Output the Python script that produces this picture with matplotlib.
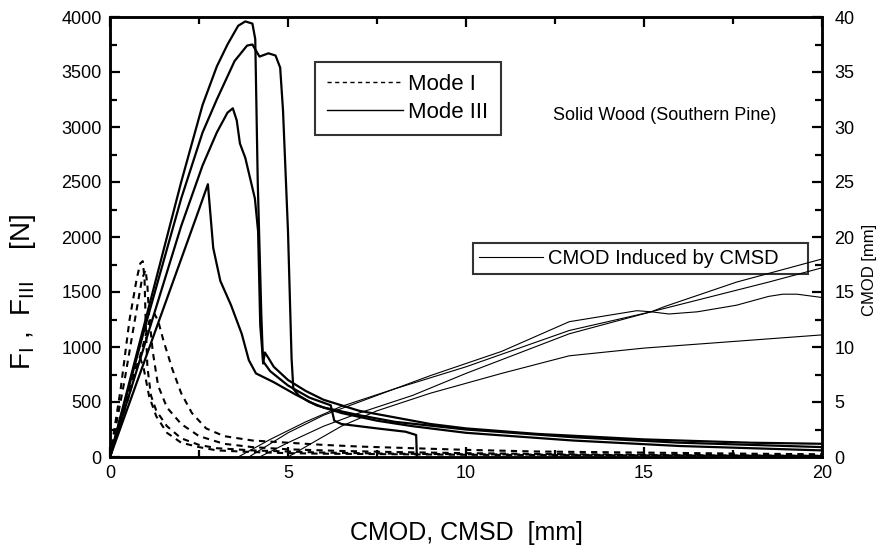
import matplotlib
matplotlib.use("Agg")
import matplotlib.pyplot as plt
from matplotlib.lines import Line2D

plt.rcParams['font.family'] = ['Liberation Sans', 'DejaVu Sans']

# ---------------- data ----------------
# Mode III (solid, left axis, N)
m3a_x = [0, 1.0, 2.0, 2.6, 3.0, 3.3, 3.6, 3.8, 4.0, 4.08, 4.15, 4.25, 4.3, 4.35, 4.45, 4.6, 5.0, 5.5, 6.0, 7.0, 8.0, 9.0, 10, 12, 15, 18, 20]
m3a_y = [0, 1250, 2500, 3200, 3550, 3750, 3920, 3960, 3940, 3800, 2500, 1300, 850, 950, 900, 820, 700, 600, 520, 420, 360, 300, 260, 210, 160, 130, 120]
m3b_x = [0, 1.0, 2.0, 2.6, 3.0, 3.5, 3.85, 4.0, 4.2, 4.45, 4.65, 4.78, 4.86, 5.0, 5.1, 5.15, 5.3, 5.6, 6.0, 7.0, 8.0, 10, 13, 16, 20]
m3b_y = [0, 1200, 2350, 2950, 3250, 3600, 3740, 3750, 3640, 3670, 3650, 3540, 3150, 2050, 900, 620, 560, 500, 450, 380, 320, 250, 180, 130, 90]
m3c_x = [0, 1.0, 2.0, 2.6, 3.0, 3.3, 3.45, 3.56, 3.65, 3.8, 4.07, 4.16, 4.22, 4.3, 4.5, 5.0, 5.6, 6.2, 6.3, 6.5, 7.5, 8.3, 8.6, 8.62]
m3c_y = [0, 1050, 2100, 2650, 2950, 3130, 3170, 3060, 2850, 2720, 2350, 2050, 1200, 870, 780, 650, 540, 470, 330, 300, 260, 230, 200, 0]
m3d_x = [0, 1.0, 2.0, 2.5, 2.75, 2.9, 3.1, 3.4, 3.7, 3.9, 4.1, 4.6, 5.2, 5.8, 6.5, 7.5, 8.5, 10, 13, 16, 20]
m3d_y = [0, 900, 1800, 2250, 2480, 1900, 1600, 1380, 1120, 880, 760, 680, 570, 470, 400, 330, 280, 220, 150, 100, 60]

# Mode I (dashed, left axis, N)
m1a_x = [0, 0.3, 0.55, 0.75, 0.85, 0.92, 0.97, 1.0, 1.05, 1.15, 1.3, 1.6, 2.0, 2.5, 3.0, 4, 5, 6, 8, 10, 13, 16, 20]
m1a_y = [0, 620, 1250, 1620, 1760, 1780, 1620, 1250, 820, 560, 420, 280, 170, 110, 80, 60, 50, 40, 30, 25, 20, 15, 10]
m1b_x = [0, 0.4, 0.7, 0.9, 1.0, 1.05, 1.1, 1.2, 1.35, 1.6, 2.0, 2.5, 3.2, 4, 5, 6.5, 8, 10, 13, 16, 20]
m1b_y = [0, 680, 1250, 1620, 1700, 1560, 1280, 960, 650, 450, 300, 190, 120, 90, 70, 55, 45, 35, 25, 20, 15]
m1c_x = [0, 0.5, 0.9, 1.1, 1.25, 1.35, 1.5, 1.75, 2.0, 2.3, 2.7, 3.2, 4.0, 5.0, 6.0, 7.0, 8.5, 10, 12, 15, 18, 20]
m1c_y = [0, 520, 980, 1230, 1300, 1240, 1060, 800, 580, 400, 260, 190, 150, 130, 110, 95, 80, 65, 50, 40, 30, 25]
m1d_x = [0, 0.4, 0.7, 0.85, 0.95, 1.1, 1.3, 1.6, 2.0, 2.5, 3.0, 4, 5, 6, 8, 10, 14, 20]
m1d_y = [0, 450, 800, 900, 800, 550, 370, 220, 130, 90, 60, 45, 35, 30, 25, 20, 15, 10]

# CMOD induced by CMSD (thin, right axis, mm)
c1_x = [3.6, 4.5, 5.5, 6.5, 8.0, 10.0, 12.9, 15.2, 15.6, 17.6, 20.0]
c1_y = [0.0, 1.6, 3.2, 4.6, 6.2, 8.2, 11.5, 13.2, 13.7, 15.9, 18.0]
c2_x = [4.2, 5.0, 6.0, 7.0, 8.5, 10.0, 12.9, 15.2, 18.5, 20.0]
c2_y = [0.0, 1.3, 2.8, 4.0, 5.6, 7.6, 11.2, 13.2, 15.9, 17.2]
c3_x = [3.9, 5.0, 6.0, 7.5, 9.0, 11.0, 12.9, 14.8, 15.2, 15.7, 16.5, 17.6, 18.5, 18.9, 19.3, 20.0]
c3_y = [0.0, 2.2, 3.8, 5.6, 7.4, 9.6, 12.3, 13.3, 13.2, 13.0, 13.2, 13.8, 14.6, 14.8, 14.8, 14.5]
c4_x = [5.0, 5.8, 6.5, 7.5, 9.0, 11.0, 12.9, 15.0, 17.5, 20.0]
c4_y = [0.0, 1.5, 2.8, 4.2, 5.8, 7.6, 9.2, 9.9, 10.5, 11.1]

y_ticks_left = [0, 500, 1000, 1500, 2000, 2500, 3000, 3500, 4000]
y_ticks_right = [0, 5, 10, 15, 20, 25, 30, 35, 40]
x_ticks = [0, 5, 10, 15, 20]

# ---------------- figure ----------------
fig = plt.figure(figsize=(8.82, 5.52), dpi=100)
ax = fig.add_axes([110/882, 1-457/552, (822-110)/882, (457-17)/552])
ax2 = ax.twinx()

for xs, ys in [(m3a_x, m3a_y), (m3b_x, m3b_y), (m3c_x, m3c_y), (m3d_x, m3d_y)]:
    ax.plot(xs, ys, color='black', lw=1.6, solid_joinstyle='round')
for xs, ys in [(m1a_x, m1a_y), (m1b_x, m1b_y), (m1c_x, m1c_y), (m1d_x, m1d_y)]:
    ax.plot(xs, ys, color='black', lw=1.5, ls=(0, (3, 2.5)))
for xs, ys in [(c1_x, c1_y), (c2_x, c2_y), (c3_x, c3_y), (c4_x, c4_y)]:
    ax2.plot(xs, ys, color='black', lw=0.8)

ax.set_xlim(0, 20)
ax.set_ylim(0, 4000)
ax2.set_ylim(0, 40)
ax.set_xticks(x_ticks)
ax.set_xticks([2.5, 7.5, 12.5, 17.5], minor=True)
ax.set_yticks(y_ticks_left)
ax.set_yticks([250 + 500 * i for i in range(8)], minor=True)
ax2.set_yticks(y_ticks_right)
ax2.set_yticks([2.5 + 5 * i for i in range(8)], minor=True)

for a in (ax, ax2):
    for s in a.spines.values():
        s.set_linewidth(1.8)
ax.tick_params(axis='both', which='both', direction='in', width=1.6, labelsize=13, top=True)
ax.tick_params(which='major', length=7)
ax.tick_params(which='minor', length=5)
ax.tick_params(axis='y', pad=6)
ax.tick_params(axis='x', pad=6)
ax2.tick_params(axis='y', which='both', direction='in', width=1.6, labelsize=13, pad=9)
ax2.tick_params(which='major', length=7)
ax2.tick_params(which='minor', length=5)

ax.set_xlabel('CMOD, CMSD  [mm]', fontsize=18)
ax.xaxis.set_label_coords(0.5, -(521-457)/440)
ax.set_ylabel(r'F$_{\mathrm{I}}$ ,  F$_{\mathrm{III}}$    [N]', fontsize=20)
ax.yaxis.set_label_coords((38-110)/712, 1-(292-17)/440)
ax2.set_ylabel('CMOD [mm]', fontsize=12)
ax2.yaxis.set_label_coords((862-110)/712, 1-(270-17)/440)

h1 = [Line2D([], [], color='black', lw=1.0, ls=(0, (3, 2.5))),
      Line2D([], [], color='black', lw=1.0)]
leg1 = ax.legend(h1, ['Mode I', 'Mode III'], loc='upper left',
                 bbox_to_anchor=((315-110)/712, 1-(62-17)/440), borderaxespad=0, fontsize=16,
                 frameon=True, fancybox=False, edgecolor='black', handlelength=3.4,
                 handletextpad=0.25, borderpad=0.55, labelspacing=0.3)
leg1.get_frame().set_linewidth(1.5)
ax.add_artist(leg1)

h2 = [Line2D([], [], color='black', lw=0.8)]
leg2 = ax.legend(h2, ['CMOD Induced by CMSD'], loc='upper left',
                 bbox_to_anchor=((473-110)/712, 1-(243-17)/440, (808-473)/712, 0.001),
                 mode='expand', borderaxespad=0, fontsize=14.5,
                 frameon=True, fancybox=False, edgecolor='black', handlelength=3.2,
                 handletextpad=0.2, borderpad=0.3)
leg2.get_frame().set_linewidth(1.5)

ax.text((553-110)/712, 1-(115-17)/440, 'Solid Wood (Southern Pine)', transform=ax.transAxes,
        fontsize=13, va='center', ha='left')

fig.savefig('out.png', dpi=100)
